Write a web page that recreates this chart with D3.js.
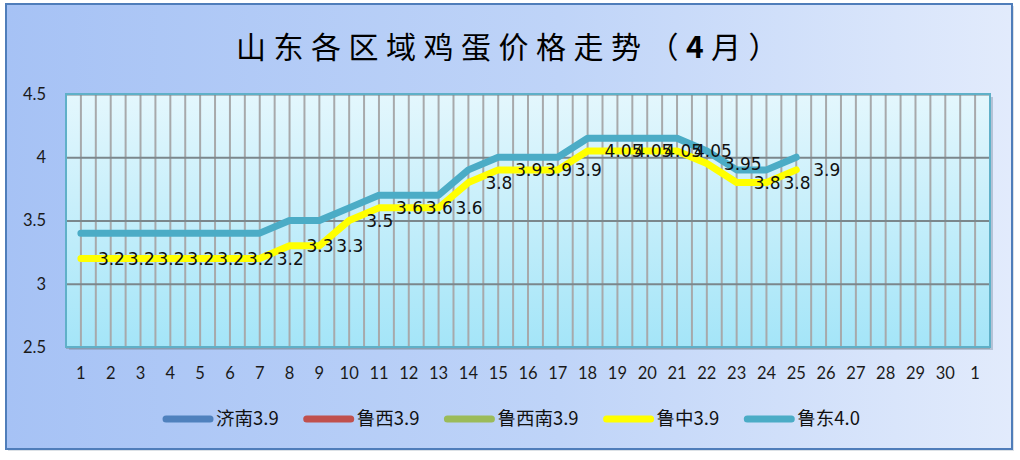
<!DOCTYPE html>
<html>
<head>
<meta charset="utf-8">
<script src="https://cdn.jsdelivr.net/npm/d3@7"></script>
<style>
  html, body { margin: 0; padding: 0; background: #ffffff; }
  svg { display: block; }
</style>
</head>
<body>
<svg id="chart" width="1020" height="460"></svg>
<script>
// ---------- data ----------
const titleMain = "山东各区域鸡蛋价格走势（";
const titleNum = "4";
const titleEnd = "月）";
const categories = ["1","2","3","4","5","6","7","8","9","10","11","12","13","14","15","16","17","18","19","20","21","22","23","24","25","26","27","28","29","30","1"];
const yTicks = [2.5, 3, 3.5, 4, 4.5];
const seriesNames = ["济南3.9", "鲁西3.9", "鲁西南3.9", "鲁中3.9", "鲁东4.0"];
const seriesColors = ["#4f81bd", "#c0504d", "#9bbb59", "#ffff00", "#4bacc6"];
const jinan = [];
const luxi = [];
const luxinan = [];
const luzhong = [3.2,3.2,3.2,3.2,3.2,3.2,3.2,3.3,3.3,3.5,3.6,3.6,3.6,3.8,3.9,3.9,3.9,4.05,4.05,4.05,4.05,3.95,3.8,3.8,3.9];
const ludong  = [3.4,3.4,3.4,3.4,3.4,3.4,3.4,3.5,3.5,3.6,3.7,3.7,3.7,3.9,4.0,4.0,4.0,4.15,4.15,4.15,4.15,4.05,3.9,3.9,4.0];
const seriesValues = [jinan, luxi, luxinan, luzhong, ludong];
const labelledSeries = 3; // 鲁中 carries the data labels

// ---------- layout ----------
const plot = { left: 66, top: 94, right: 990, bottom: 347 };

const svg = d3.select("#chart");
const defs = svg.append("defs");

const bgGrad = defs.append("linearGradient").attr("id", "bgGrad")
  .attr("x1", "0%").attr("y1", "0%").attr("x2", "100%").attr("y2", "0%");
bgGrad.append("stop").attr("offset", "0%").attr("stop-color", "#a6c2f5");
bgGrad.append("stop").attr("offset", "55%").attr("stop-color", "#bfd4f8");
bgGrad.append("stop").attr("offset", "100%").attr("stop-color", "#e2ebfc");

const plotGrad = defs.append("linearGradient").attr("id", "plotGrad")
  .attr("x1", "0%").attr("y1", "0%").attr("x2", "0%").attr("y2", "100%");
plotGrad.append("stop").attr("offset", "0%").attr("stop-color", "#e4f7fd");
plotGrad.append("stop").attr("offset", "100%").attr("stop-color", "#a4e5f8");

// chart background + border
svg.append("rect").attr("x", 8).attr("y", 6).attr("width", 1006).attr("height", 445)
  .attr("fill", "#9aa8b8").attr("opacity", 0.35);
svg.append("rect").attr("x", 6).attr("y", 4).attr("width", 1006).attr("height", 445)
  .attr("fill", "url(#bgGrad)").attr("stroke", "#4f7dba").attr("stroke-width", 2);

// title
const title = svg.append("text")
  .attr("x", 511).attr("y", 58)
  .attr("text-anchor", "middle")
  .attr("font-family", "'Noto Sans CJK SC', sans-serif")
  .attr("font-size", 30)
  .attr("letter-spacing", 7.5)
  .attr("fill", "#000");
title.append("tspan").text(titleMain);
title.append("tspan").attr("font-weight", "bold").text(titleNum);
title.append("tspan").text(titleEnd);

// scales
const x = d3.scaleBand().domain(d3.range(categories.length))
  .range([plot.left, plot.right]).paddingInner(0).paddingOuter(0);
const y = d3.scaleLinear().domain([yTicks[0], yTicks[yTicks.length - 1]])
  .range([plot.bottom, plot.top]);
const cx = i => x(i) + x.bandwidth() / 2;

// plot area shadow + fill
svg.append("rect").attr("x", plot.left + 3).attr("y", plot.top + 3)
  .attr("width", plot.right - plot.left).attr("height", plot.bottom - plot.top)
  .attr("fill", "#7f93a8").attr("opacity", 0.45);
svg.append("rect").attr("x", plot.left).attr("y", plot.top)
  .attr("width", plot.right - plot.left).attr("height", plot.bottom - plot.top)
  .attr("fill", "url(#plotGrad)");

// vertical grid lines (major at centers, minor at boundaries)
const vLines = [];
for (let i = 0; i < categories.length; i++) {
  vLines.push(cx(i));
  if (i > 0) vLines.push(x(i));
}
svg.append("g").selectAll("line").data(vLines).join("line")
  .attr("x1", d => d).attr("x2", d => d)
  .attr("y1", plot.top).attr("y2", plot.bottom)
  .attr("stroke", "#a7a9ab").attr("stroke-width", 2);

// horizontal grid lines via axis
const yGrid = d3.axisLeft(y).tickValues(yTicks).tickSize(-(plot.right - plot.left)).tickFormat("");
const yg = svg.append("g").attr("transform", `translate(${plot.left},0)`).call(yGrid);
yg.select(".domain").remove();
yg.selectAll(".tick line").attr("stroke", "#7b878c").attr("stroke-width", 2);

// plot border
svg.append("rect").attr("x", plot.left).attr("y", plot.top)
  .attr("width", plot.right - plot.left).attr("height", plot.bottom - plot.top)
  .attr("fill", "none").attr("stroke", "#5fb0c8").attr("stroke-width", 2);

// y axis labels
const yAxis = d3.axisLeft(y).tickValues(yTicks).tickSize(0).tickPadding(0)
  .tickFormat(d => String(d));
const ya = svg.append("g").attr("transform", `translate(46,0)`).call(yAxis);
ya.select(".domain").remove();
ya.selectAll("text").attr("font-family", "Lato, 'Open Sans', sans-serif")
  .attr("font-size", 16.5).attr("fill", "#1a1a1a");

// x axis labels
const xAxis = d3.axisBottom(x).tickSize(0).tickPadding(0).tickFormat(i => categories[i]);
const xa = svg.append("g").attr("transform", `translate(0,${plot.bottom + 20})`).call(xAxis);
xa.select(".domain").remove();
xa.selectAll("text").attr("font-family", "Lato, 'Open Sans', sans-serif")
  .attr("font-size", 16.5).attr("fill", "#1a1a1a");

// lines
const line = d3.line()
  .defined(d => d != null)
  .x((d, i) => cx(i))
  .y(d => y(d));

const linesG = svg.append("g");
seriesValues.forEach((vals, s) => {
  if (!vals.length) return;
  linesG.append("path").datum(vals)
    .attr("d", line)
    .attr("fill", "none")
    .attr("stroke", seriesColors[s])
    .attr("stroke-width", 7)
    .attr("stroke-linejoin", "round")
    .attr("stroke-linecap", "round");
});

// data labels
svg.append("g").selectAll("text").data(seriesValues[labelledSeries]).join("text")
  .attr("x", (d, i) => cx(i) + 17)
  .attr("y", d => y(d))
  .attr("dy", "0.36em")
  .attr("font-family", "'DejaVu Sans', sans-serif")
  .attr("font-size", 17)
  .attr("fill", "#111")
  .text(d => String(d));

// legend
const legendY = 419;
const swatch = 44;
const gap = 28;
const legend = svg.append("g");
const items = legend.selectAll("g").data(seriesNames).join("g");
items.append("line")
  .attr("x1", 0).attr("x2", swatch).attr("y1", legendY).attr("y2", legendY)
  .attr("stroke", (d, i) => seriesColors[i]).attr("stroke-width", 7)
  .attr("stroke-linecap", "round");
items.append("text")
  .attr("x", swatch + 6).attr("y", legendY).attr("dy", "0.35em")
  .attr("font-family", "'Noto Sans CJK SC', sans-serif")
  .attr("font-size", 18.5)
  .attr("fill", "#111")
  .text(d => d);
let cursor = 0;
const offsets = [];
items.each(function () {
  offsets.push(cursor);
  const tw = d3.select(this).select("text").node().getComputedTextLength();
  cursor += swatch + 6 + tw + gap;
});
const total = cursor - gap;
const startX = 513 - total / 2;
items.attr("transform", (d, i) => `translate(${startX + offsets[i]},0)`);
</script>
</body>
</html>
